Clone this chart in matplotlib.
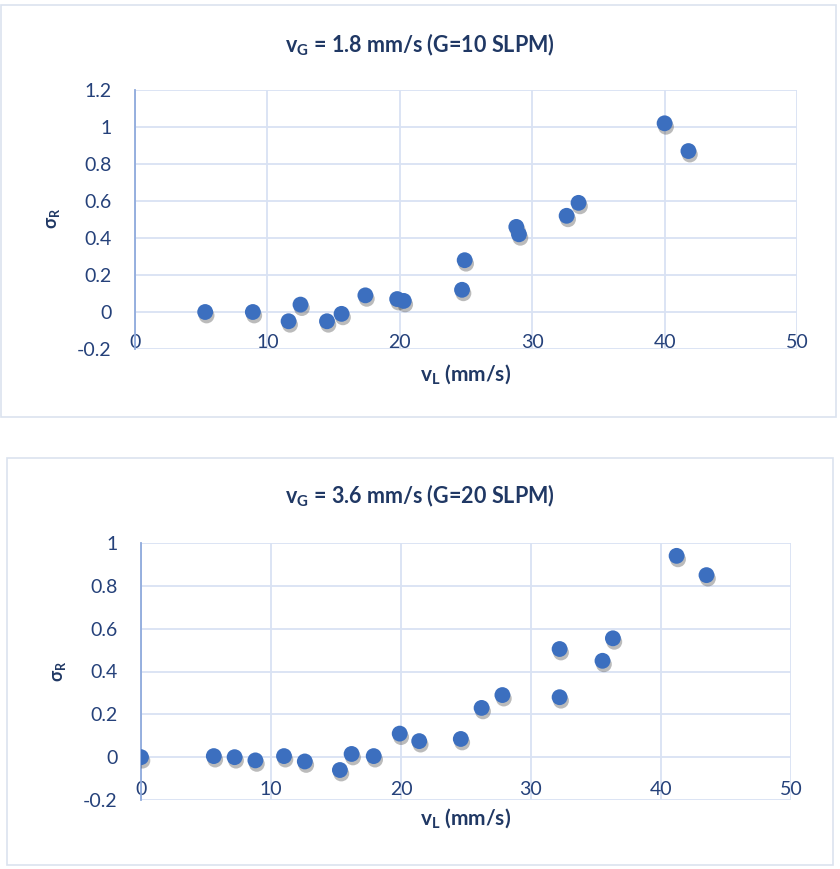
import matplotlib
matplotlib.use("Agg")
import matplotlib.pyplot as plt
import matplotlib.patheffects as pe
from matplotlib.patches import Rectangle

plt.rcParams['font.family'] = ['Lato', 'DejaVu Sans']
plt.rcParams['mathtext.fontset'] = 'custom'
plt.rcParams['mathtext.rm'] = 'Lato'
plt.rcParams['mathtext.bf'] = 'Lato:bold'
plt.rcParams['mathtext.it'] = 'Lato:italic'

# data
vl_10 = [5.3, 8.9, 11.6, 12.5, 14.5, 15.6, 17.4, 19.8, 20.3, 24.7, 24.9,
         28.8, 29.0, 32.6, 33.5, 40.0, 41.8]
sigma_10 = [0.0, 0.0, -0.05, 0.04, -0.05, -0.01, 0.09, 0.07, 0.06, 0.12, 0.28,
            0.46, 0.42, 0.52, 0.59, 1.02, 0.87]

vl_20 = [0.0, 5.6, 7.2, 8.8, 11.0, 12.6, 15.3, 16.2, 17.9, 19.9, 21.4, 24.6,
         26.2, 27.8, 32.2, 32.2, 35.5, 36.3, 41.2, 43.5]
sigma_20 = [0.0, 0.005, 0.0, -0.015, 0.005, -0.02, -0.06, 0.015, 0.005, 0.11,
            0.075, 0.085, 0.23, 0.29, 0.505, 0.28, 0.45, 0.555, 0.94, 0.85]

titles = ["= 1.8 mm/s (G=10 SLPM)", "= 3.6 mm/s (G=20 SLPM)"]
x_ticks = [0, 10, 20, 30, 40, 50]
y_ticks_10 = [-0.2, 0, 0.2, 0.4, 0.6, 0.8, 1, 1.2]
y_ticks_20 = [-0.2, 0, 0.2, 0.4, 0.6, 0.8, 1]

NAVY = '#203864'
TICK = '#25417a'
GRID = '#d9e2f3'
SPINE = '#8faadc'
DOT = '#3c6fbf'

W, H = 840, 869
fig = plt.figure(figsize=(W / 100, H / 100), dpi=100)

# chart frames
fig.patches.append(Rectangle((1 / W, 1 - 417 / H), 835 / W, 412 / H,
                             transform=fig.transFigure, fill=False,
                             edgecolor='#dbe3ef', lw=1.2))
fig.patches.append(Rectangle((7 / W, 1 - 865 / H), 826 / W, 407 / H,
                             transform=fig.transFigure, fill=False,
                             edgecolor='#dbe3ef', lw=1.2))


def fmt(v):
    return f"{v:g}"


def draw(rect, x, y, yticks, title, title_y, xlab_y, ylab_xy, xpad):
    ax = fig.add_axes(rect)
    ax.scatter(x, y, s=130, color=DOT, zorder=3, linewidths=0,
               path_effects=[pe.SimplePatchShadow(offset=(1, -2.5),
                                                  shadow_rgbFace='#555555',
                                                  alpha=0.4),
                             pe.Normal()])
    ax.set_xlim(0, 50)
    ax.set_ylim(yticks[0], yticks[-1])
    ax.set_xticks(x_ticks)
    ax.set_xticklabels([fmt(t) for t in x_ticks])
    ax.set_yticks(yticks)
    ax.set_yticklabels([fmt(t) for t in yticks])
    ax.grid(True, color=GRID, lw=1.3, zorder=0)
    ax.set_axisbelow(True)
    for s in ['top', 'right', 'bottom']:
        ax.spines[s].set_visible(False)
    ax.spines['left'].set_color(SPINE)
    ax.spines['left'].set_linewidth(1.3)
    ax.tick_params(axis='y', length=0, pad=17, labelsize=14, labelcolor=TICK)
    ax.tick_params(axis='x', length=0, pad=xpad, labelsize=14, labelcolor=TICK)
    ax.text(0.5, 1 - (xlab_y - H * (1 - rect[1] - rect[3])) / (H * rect[3]),
            r'$\mathbf{v_L}$ (mm/s)', transform=ax.transAxes, ha='center',
            va='center', fontsize=15, fontweight='bold', color=NAVY)
    fig.text(ylab_xy[0] / W, 1 - ylab_xy[1] / H, r'$\mathbf{\sigma_R}$',
             ha='center', va='center', rotation=90, fontsize=13,
             fontweight='bold', color=NAVY)
    fig.text(420 / W, 1 - title_y / H, r'$\mathbf{v_G}$ ' + title,
             ha='center', va='center', fontsize=15.5, fontweight='bold',
             color=NAVY)
    return ax


draw([135 / W, 1 - 349 / H, 662 / W, 259 / H], vl_10, sigma_10, y_ticks_10,
     titles[0], 45, 374, (53, 218), -11)
draw([141 / W, 1 - 800 / H, 650 / W, 257 / H], vl_20, sigma_20, y_ticks_20,
     titles[1], 496, 818, (59, 671), -14)

fig.savefig("out.png", dpi=100)
